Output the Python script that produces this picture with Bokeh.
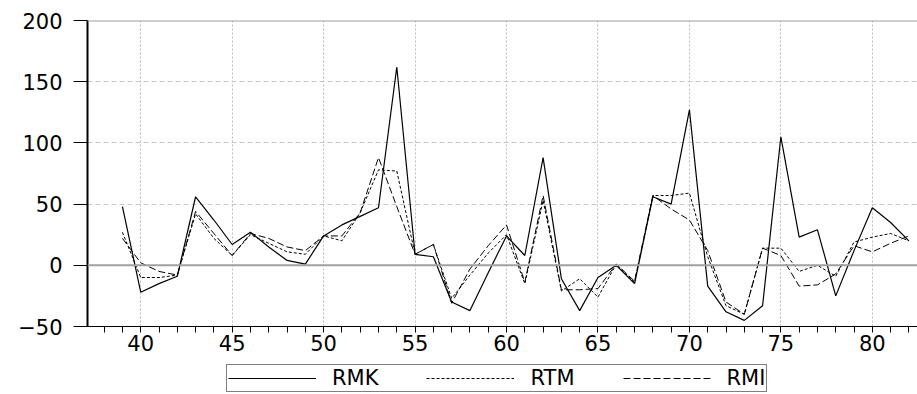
from bokeh.plotting import figure
from bokeh.layouts import column
from bokeh.models import Range1d, SingleIntervalTicker, FixedTicker, Span, Legend, LegendItem
from bokeh.embed import file_html
from bokeh.resources import INLINE

years = list(range(39, 83))
rmk = [48, -22, -15, -9, 56, 37, 17, 27, 15, 4, 1, 24, 33, 40, 47, 162, 9, 7,
       -30, -37, -6, 24, 8, 88, -11, -37, -10, 0, -15, 56, 50, 127, -17, -38,
       -45, -33, 105, 23, 29, -25, 12, 47, 35, 20]
rtm = [27, -10, -10, -8, 42, 22, 8, 25, 18, 11, 9, 24, 20, 43, 78, 77, 9, 17,
       -27, -8, 10, 25, -15, 53, -21, -11, -26, 1, -14, 57, 57, 59, 7, -33,
       -40, 14, 14, -5, 0, -9, 19, 23, 26, 20]
rmi = [22, 2, -5, -8, 44, 26, 8, 26, 22, 15, 12, 24, 24, 43, 88, 48, 9, 17,
       -31, -3, 16, 33, -14, 57, -20, -20, -19, 1, -13, 57, 46, 37, 12, -30,
       -40, 14, 8, -17, -16, -7, 16, 11, 18, 24]
y_ticks = [-50, 0, 50, 100, 150, 200]
series_names = ["RMK", "RTM", "RMI"]

FONT = "DejaVu Sans"

p = figure(width=917, height=362, output_backend="svg", toolbar_location=None,
           x_range=Range1d(37.09, 82.47), y_range=Range1d(-50, 200),
           min_border_left=87, min_border_right=0, min_border_top=20,
           min_border_bottom=36)
p.outline_line_color = None
p.background_fill_color = "white"
p.border_fill_color = "white"

# grids
p.xaxis.ticker = SingleIntervalTicker(interval=5, num_minor_ticks=5)
p.yaxis.ticker = FixedTicker(ticks=y_ticks)
p.xgrid.grid_line_color = "#bdbdbd"
p.xgrid.grid_line_dash = "2 2"
p.xgrid.grid_line_width = 1
p.ygrid.grid_line_color = "#c8c8c8"
p.ygrid.grid_line_dash = "5 3"
p.ygrid.grid_line_width = 1

p.add_layout(Span(location=0, dimension="width", line_color="#a0a0a0", line_width=2))
p.add_layout(Span(location=200, dimension="width", line_color="#a0a0a0", line_width=2))

# axes
p.xaxis.axis_line_color = "black"
p.xaxis.axis_line_width = 1
p.xaxis.major_tick_out = 0
p.xaxis.major_tick_in = 0
p.xaxis.minor_tick_out = 6
p.xaxis.minor_tick_in = 0
p.xaxis.minor_tick_line_color = "black"
p.xaxis.major_label_standoff = 2
p.yaxis.axis_line_color = "black"
p.yaxis.axis_line_width = 2
p.yaxis.major_tick_out = 14
p.yaxis.major_tick_in = 0
p.yaxis.major_tick_line_color = "black"
p.yaxis.major_tick_line_width = 1
p.yaxis.minor_tick_out = 0
p.yaxis.minor_tick_in = 0
p.yaxis.major_label_standoff = 11
for ax in (p.xaxis, p.yaxis):
    ax.major_label_text_font = FONT
    ax.major_label_text_font_size = "21px"
    ax.major_label_text_color = "black"

styles = [("solid", 1.2), ("3 2", 1.0), ("7 3", 1.0)]
for name, vals, (dash, lw) in zip(series_names, [rmk, rtm, rmi], styles):
    p.line(years, vals, line_color="black", line_width=lw, line_dash=dash)

# legend strip (separate small figure holding only the key)
q = figure(width=917, height=32, output_backend="svg", toolbar_location=None,
           x_range=Range1d(0, 1), y_range=Range1d(0, 1),
           min_border_left=0, min_border_right=0, min_border_top=0,
           min_border_bottom=0)
q.axis.visible = False
q.grid.visible = False
q.outline_line_color = None
q.background_fill_color = "white"
q.border_fill_color = "white"
items = []
for name, (dash, lw) in zip(series_names, styles):
    r = q.line([5, 6], [5, 6], line_color="black", line_width=lw, line_dash=dash)
    items.append(LegendItem(label=name, renderers=[r]))

lg = Legend(items=items, orientation="horizontal", location=(139, 2))
lg.border_line_color = "black"
lg.border_line_width = 1
lg.background_fill_color = "white"
lg.background_fill_alpha = 1
lg.padding = 1
lg.margin = 0
lg.spacing = 48
lg.label_standoff = 16
lg.glyph_width = 88
lg.glyph_height = 16
lg.label_height = 16
lg.label_text_font = FONT
lg.label_text_font_size = "21px"
lg.label_text_color = "black"
lg.label_text_line_height = 1.0
q.add_layout(lg, "center")

layout = column(p, q, spacing=0)
open("out.html", "w").write(file_html(layout, INLINE))
